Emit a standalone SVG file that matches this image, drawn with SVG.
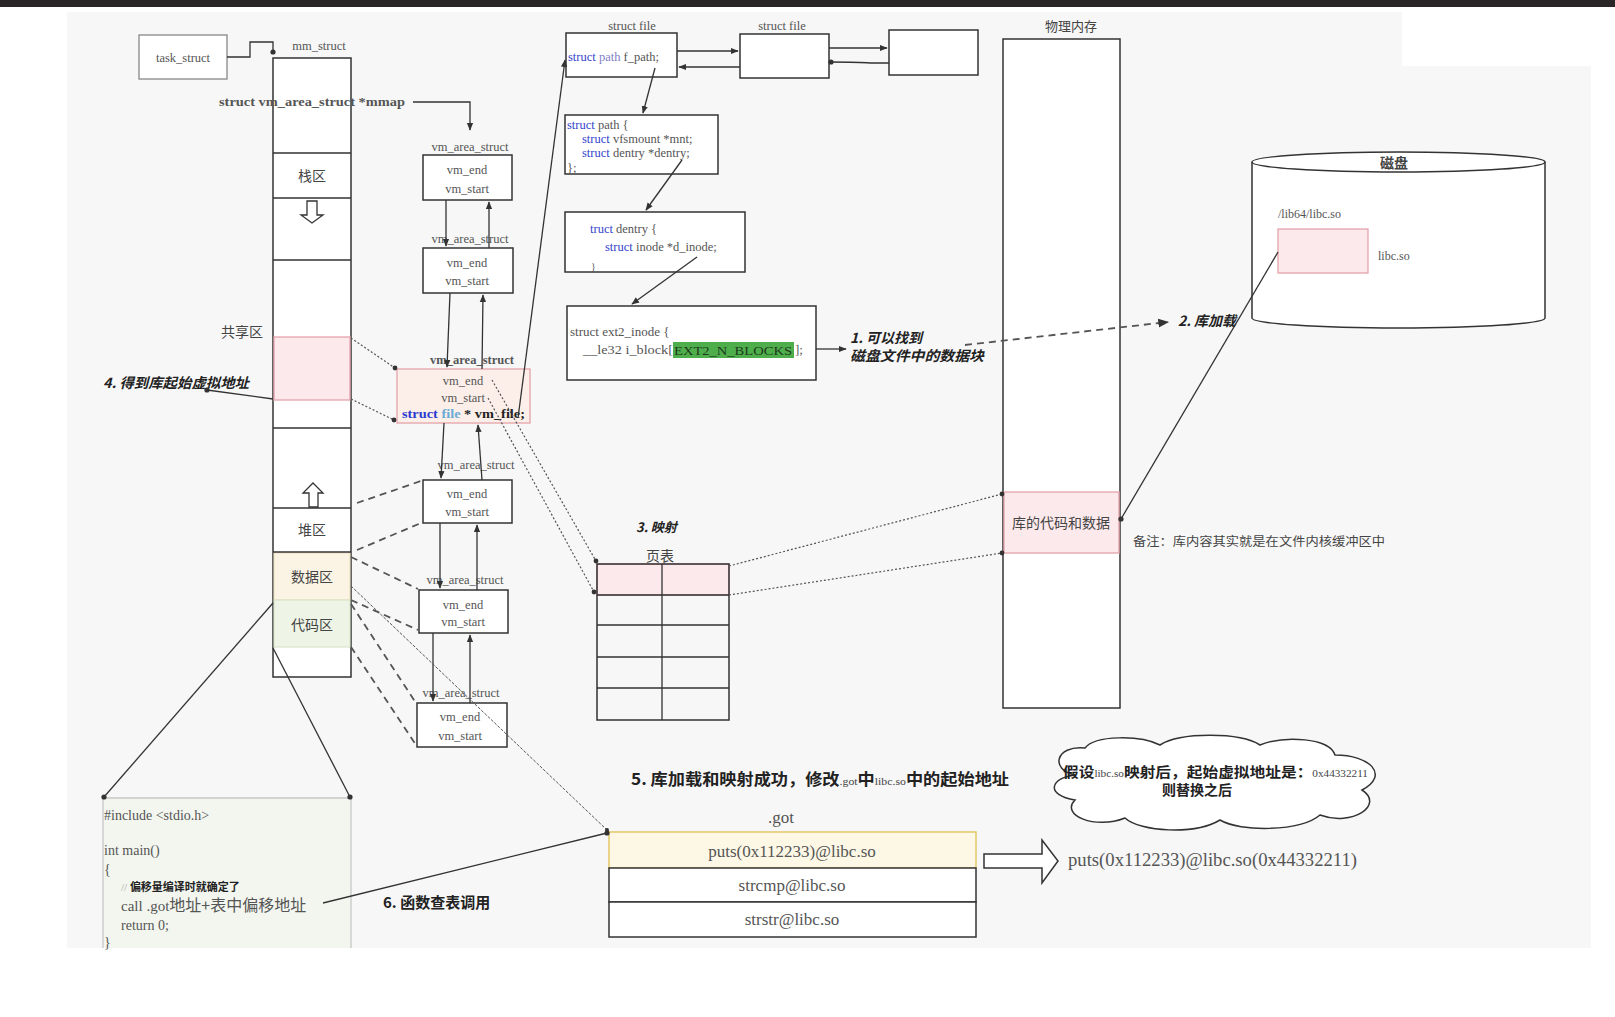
<svg xmlns="http://www.w3.org/2000/svg" width="1615" height="1017" viewBox="0 0 1615 1017">
<defs>
<style>
.bx{fill:#fff;stroke:#333;stroke-width:1.5}
.pk{fill:#fce9eb;stroke:#e4a3ab;stroke-width:1.3}
.ln{fill:none;stroke:#333;stroke-width:1.3}
.dt{fill:none;stroke:#555;stroke-width:1.2;stroke-dasharray:2 2}
.ds{fill:none;stroke:#555;stroke-width:1.8;stroke-dasharray:7 5}
.sf{font-family:"Liberation Serif",serif;fill:#555}
.s12{font-size:12.5px}
.cj{font-family:"Noto Sans CJK SC",sans-serif;fill:#444}
.bi{font-family:"Noto Sans CJK SC",sans-serif;font-weight:bold;font-style:italic;fill:#222}
.bd{font-family:"Noto Sans CJK SC",sans-serif;font-weight:bold;fill:#222}
.m{text-anchor:middle}
</style>
<marker id="arr" viewBox="0 0 10 10" refX="9" refY="5" markerWidth="6" markerHeight="6" orient="auto"><path d="M0,1 L10,5 L0,9 z" fill="#333"/></marker>
<marker id="dot" viewBox="0 0 10 10" refX="5" refY="5" markerWidth="5" markerHeight="5"><circle cx="5" cy="5" r="4" fill="#333"/></marker>
</defs>
<rect x="0" y="0" width="1615" height="1017" fill="#fff"/>
<rect x="0" y="0" width="1615" height="7" fill="#2a2627"/>
<rect x="67" y="12" width="1524" height="936" fill="#f7f7f7"/>
<rect x="1402" y="12" width="189" height="54" fill="#fff"/>

<g id="task_struct"><rect x="139" y="35" width="88" height="44" fill="#fff" stroke="#888" stroke-width="1.3"/><text class="sf s12 m" x="183" y="62" fill="#666">task_struct</text></g>

<g id="mm_struct">
<text class="sf s12 m" x="319" y="50">mm_struct</text>
<rect x="273" y="58" width="78" height="619" class="bx"/>
<rect x="274" y="337" width="76" height="63" class="pk"/>
<rect x="274" y="553" width="76" height="47" fill="#fbf4e4" stroke="#e8dcb8"/>
<rect x="274" y="600" width="76" height="47" fill="#eef4e6" stroke="#d6e2c2"/>
<path class="ln" d="M273,153 H351 M273,198 H351 M273,260 H351 M273,428 H351 M273,508 H351 M273,552 H351"/>
<path d="M307,201 H317 V215 H323 L312,223 L301,215 H307 Z" fill="#fff" stroke="#333" stroke-width="1.3"/>
<path d="M309,507 H318 V493 H323 L313,483 L303,493 H309 Z" fill="#fff" stroke="#333" stroke-width="1.3"/>
<text class="cj m" x="312" y="181" font-size="14">栈区</text>
<text class="cj m" x="312" y="535" font-size="14">堆区</text>
<text class="cj m" x="312" y="582" font-size="14">数据区</text>
<text class="cj m" x="312" y="630" font-size="14">代码区</text>
<text class="sf m" x="312" y="106" font-size="13.5" font-weight="bold" fill="#222" textLength="186" lengthAdjust="spacingAndGlyphs">struct vm_area_struct *mmap</text>
</g>
<text class="cj m" x="242" y="337" font-size="14">共享区</text>
<text class="bi" x="103" y="388" font-size="14" textLength="146" lengthAdjust="spacingAndGlyphs">4. 得到库起始虚拟地址</text>

<g id="vma1"><text class="sf s12 m" x="470" y="151">vm_area_struct</text><rect x="423" y="155" width="89" height="45" class="bx"/><text class="sf s12 m" x="467" y="174">vm_end</text><text class="sf s12 m" x="467" y="193">vm_start</text></g>
<g id="vma2"><text class="sf s12 m" x="470" y="243">vm_area_struct</text><rect x="423" y="248" width="90" height="45" class="bx"/><text class="sf s12 m" x="467" y="267">vm_end</text><text class="sf s12 m" x="467" y="285">vm_start</text></g>
<g id="vma3"><text class="sf s12 m" x="472" y="364" font-weight="bold" fill="#333">vm_area_struct</text><rect x="397" y="369" width="133" height="54" fill="#fcefe9" stroke="#e4a3ab" stroke-width="1.3"/><text class="sf s12 m" x="463" y="385">vm_end</text><text class="sf s12 m" x="463" y="402">vm_start</text><text x="402" y="418" font-family="Liberation Serif,serif" font-size="12.5" font-weight="bold" textLength="123" lengthAdjust="spacingAndGlyphs"><tspan fill="#2b3bd0">struct</tspan><tspan fill="#6aaad6"> file</tspan><tspan fill="#222"> * vm_file;</tspan></text></g>
<g id="vma4"><text class="sf s12 m" x="476" y="469">vm_area_struct</text><rect x="423" y="480" width="89" height="43" class="bx"/><text class="sf s12 m" x="467" y="498">vm_end</text><text class="sf s12 m" x="467" y="516">vm_start</text></g>
<g id="vma5"><text class="sf s12 m" x="465" y="584">vm_area_struct</text><rect x="419" y="590" width="89" height="43" class="bx"/><text class="sf s12 m" x="463" y="609">vm_end</text><text class="sf s12 m" x="463" y="626">vm_start</text></g>
<g id="vma6"><text class="sf s12 m" x="461" y="697">vm_area_struct</text><rect x="417" y="703" width="90" height="44" class="bx"/><text class="sf s12 m" x="460" y="721">vm_end</text><text class="sf s12 m" x="460" y="740">vm_start</text></g>

<g id="file1"><text class="sf s12 m" x="632" y="30">struct file</text><rect x="566" y="33" width="111" height="44" class="bx"/><text x="568" y="61" font-family="Liberation Serif,serif" font-size="12.5"><tspan fill="#3344cc">struct</tspan><tspan fill="#8080c8"> path</tspan><tspan fill="#555"> f_path;</tspan></text></g>
<g id="file2"><text class="sf s12 m" x="782" y="30">struct file</text><rect x="740" y="34" width="89" height="44" class="bx"/></g>
<g id="file3"><rect x="889" y="30" width="89" height="45" class="bx"/></g>
<g id="path"><rect x="565" y="115" width="153" height="59" class="bx"/><text x="567" y="129" font-family="Liberation Serif,serif" font-size="12.5"><tspan fill="#3344cc">struct</tspan><tspan fill="#555"> path {</tspan></text><text x="582" y="143" font-family="Liberation Serif,serif" font-size="12.5"><tspan fill="#3344cc">struct</tspan><tspan fill="#555"> vfsmount *mnt;</tspan></text><text x="582" y="157" font-family="Liberation Serif,serif" font-size="12.5"><tspan fill="#3344cc">struct</tspan><tspan fill="#555"> dentry *dentry;</tspan></text><text class="sf s12" x="567" y="172">};</text></g>
<g id="dentry"><rect x="565" y="212" width="180" height="60" class="bx"/><text x="590" y="233" font-family="Liberation Serif,serif" font-size="12.5"><tspan fill="#3344cc">truct</tspan><tspan fill="#555"> dentry {</tspan></text><text x="605" y="251" font-family="Liberation Serif,serif" font-size="12.5"><tspan fill="#3344cc">struct</tspan><tspan fill="#555"> inode *d_inode;</tspan></text><text class="sf" x="591" y="270" font-size="10">}</text></g>
<g id="ext2"><rect x="567" y="306" width="249" height="74" class="bx"/><text class="sf" x="570" y="336" font-size="13">struct ext2_inode {</text><text class="sf" x="583" y="354" font-size="13" textLength="90" lengthAdjust="spacingAndGlyphs">__le32  i_block[</text><rect x="673" y="342" width="121" height="16" fill="#4fae4c"/><text x="674" y="355" font-family="Liberation Serif,serif" font-size="13" fill="#1d3a1c" textLength="118" lengthAdjust="spacingAndGlyphs">EXT2_N_BLOCKS</text><text class="sf" x="795" y="354" font-size="13">];</text></g>
<text class="bi" x="850" y="343" font-size="14">1. 可以找到</text>
<text class="bi" x="850" y="361" font-size="14" textLength="134" lengthAdjust="spacingAndGlyphs">磁盘文件中的数据块</text>

<g id="phys"><text class="cj m" x="1071" y="31" font-size="13" fill="#555">物理内存</text><rect x="1003" y="39" width="117" height="669" class="bx"/><rect x="1004" y="492" width="115" height="61" class="pk"/><text class="cj m" x="1061" y="528" font-size="14" fill="#555">库的代码和数据</text></g>

<g id="pagetable"><text class="bi" x="636" y="532" font-size="13">3. 映射</text><text class="cj m" x="660" y="561" font-size="14" fill="#555">页表</text>
<rect x="597" y="564" width="132" height="31" class="pk"/>
<rect x="597" y="564" width="132" height="156" fill="none" stroke="#333" stroke-width="1.5"/>
<path class="ln" d="M662,564 V720 M597,595 H729 M597,625 H729 M597,657 H729 M597,688 H729"/></g>

<g id="disk"><path d="M1252,162 V318 A146.5,10 0 0 0 1545,318 V162" fill="#fff" stroke="#333" stroke-width="1.5"/><ellipse cx="1398.5" cy="162" rx="146.5" ry="10" fill="#fff" stroke="#333" stroke-width="1.5"/><text class="cj m" x="1394" y="168" font-size="14" font-weight="bold" fill="#555">磁盘</text><text class="sf" x="1278" y="218" font-size="12">/lib64/libc.so</text><rect x="1278" y="229" width="90" height="44" class="pk"/><text class="sf" x="1378" y="260" font-size="12">libc.so</text></g>
<text class="bi" x="1178" y="326" font-size="14">2. 库加载</text>
<text class="cj" x="1133" y="546" font-size="12" textLength="252" lengthAdjust="spacingAndGlyphs">备注：库内容其实就是在文件内核缓冲区中</text>

<g id="cloud"><path d="M1075,775 C1050,770 1055,745 1085,748 C1095,735 1140,735 1160,745 C1180,732 1240,732 1260,745 C1285,735 1330,738 1335,755 C1370,755 1390,775 1362,790 C1385,805 1352,827 1320,815 C1300,832 1240,832 1220,820 C1195,835 1140,832 1125,818 C1095,830 1060,815 1075,800 C1045,795 1050,778 1075,775 Z" fill="#fff" stroke="#333" stroke-width="1.5"/>
<text x="1063" y="777" font-size="14" textLength="305" lengthAdjust="spacingAndGlyphs" class="bd"><tspan>假设</tspan><tspan font-family="Liberation Serif,serif" font-weight="normal" font-size="10" fill="#444">libc.so</tspan><tspan>映射后，起始虚拟地址是：</tspan><tspan font-family="Liberation Serif,serif" font-weight="normal" font-size="10" fill="#444">0x44332211</tspan></text>
<text class="bd m" x="1197" y="795" font-size="14">则替换之后</text></g>

<text x="631" y="785" font-size="16" class="bd" textLength="378" lengthAdjust="spacingAndGlyphs"><tspan>5. 库加载和映射成功，修改</tspan><tspan font-family="Liberation Serif,serif" font-weight="normal" font-size="11" fill="#444">.got</tspan><tspan>中</tspan><tspan font-family="Liberation Serif,serif" font-weight="normal" font-size="11" fill="#444">libc.so</tspan><tspan>中的起始地址</tspan></text>

<g id="got"><text class="sf m" x="781" y="823" font-size="17">.got</text>
<rect x="609" y="832" width="367" height="36" fill="#fdf8e6" stroke="#e2c86a" stroke-width="1.5"/>
<rect x="609" y="868" width="367" height="34" class="bx"/>
<rect x="609" y="902" width="367" height="35" class="bx"/>
<text class="sf m" x="792" y="857" font-size="17">puts(0x112233)@libc.so</text>
<text class="sf m" x="792" y="891" font-size="17">strcmp@libc.so</text>
<text class="sf m" x="792" y="925" font-size="17">strstr@libc.so</text></g>
<path d="M984,854 H1042 V840 L1058,861 L1042,883 V868 H984 Z" fill="#fff" stroke="#333" stroke-width="1.5"/>
<text class="sf" x="1068" y="866" font-size="18" textLength="289" lengthAdjust="spacingAndGlyphs">puts(0x112233)@libc.so(0x44332211)</text>

<g id="code"><rect x="103" y="798" width="248" height="150" fill="#f3f6ef"/><path d="M103,948 V798 H351 V948" fill="none" stroke="#c8c8c8" stroke-width="1.3"/>
<text class="sf" x="104" y="820" font-size="14">#include &lt;stdio.h&gt;</text>
<text class="sf" x="104" y="855" font-size="14">int main()</text>
<text class="sf" x="104" y="874" font-size="14">{</text>
<text x="121" y="891" font-size="11"><tspan font-family="Liberation Serif,serif" fill="#aaa">// </tspan><tspan class="bd" fill="#333">偏移量编译时就确定了</tspan></text>
<text x="121" y="911" font-size="15"><tspan font-family="Liberation Serif,serif" fill="#555">call .got</tspan><tspan font-family="Noto Sans CJK SC,sans-serif" fill="#555" font-size="16">地址+表中偏移地址</tspan></text>
<text class="sf" x="121" y="930" font-size="14">return 0;</text>
<text class="sf" x="104" y="947" font-size="14">}</text></g>
<text class="bd" x="383" y="908" font-size="15">6. 函数查表调用</text>

<g id="connectors">
<path class="ln" d="M227,57 H250 V42 H273 V52" marker-end="url(#dot)"/>
<path class="ln" d="M413,102 H470 V130" marker-end="url(#arr)"/>
<path class="ln" d="M446,200 V246" marker-end="url(#arr)"/>
<path class="ln" d="M489,248 V202" marker-end="url(#arr)"/>
<path class="ln" d="M450,293 L447,367" marker-end="url(#arr)"/>
<path class="ln" d="M482,369 L483,295" marker-end="url(#arr)"/>
<path class="ln" d="M444,423 L441,478" marker-end="url(#arr)"/>
<path class="ln" d="M482,480 L478,425" marker-end="url(#arr)"/>
<path class="ln" d="M440,523 V588" marker-end="url(#arr)"/>
<path class="ln" d="M477,590 V525" marker-end="url(#arr)"/>
<path class="ln" d="M433,633 V701" marker-end="url(#arr)"/>
<path class="ln" d="M470,703 V635" marker-end="url(#arr)"/>
<path class="ln" d="M518,418 L565,60" marker-end="url(#arr)"/>
<path class="ln" d="M677,51 H738" marker-end="url(#arr)"/>
<path class="ln" d="M740,67 H679" marker-end="url(#arr)"/>
<path class="ln" d="M829,48 H887" marker-end="url(#arr)"/>
<path class="ln" d="M889,63 H870 Q860,62 831,62" marker-end="url(#dot)"/>
<path class="ln" d="M655,68 L643,113" marker-end="url(#arr)"/>
<path class="ln" d="M682,160 L646,210" marker-end="url(#arr)"/>
<path class="ln" d="M697,257 L632,304" marker-end="url(#arr)"/>
<path class="ln" d="M816,349 H846" marker-end="url(#arr)"/>
<path class="dt" d="M351,338 L395,368" marker-end="url(#dot)"/>
<path class="dt" d="M351,399 L394,420" marker-end="url(#dot)"/>
<path class="ln" d="M273,399 L207,390" marker-end="url(#dot)"/>
<path class="dt" d="M492,380 L596,561" marker-end="url(#dot)"/>
<path class="dt" d="M488,398 L594,592" marker-end="url(#dot)"/>
<path class="dt" d="M729,566 L1002,494" marker-end="url(#dot)"/>
<path class="dt" d="M729,595 L1002,553" marker-end="url(#dot)"/>
<path class="ds" d="M965,345 L1168,322" marker-end="url(#arr)" stroke-width="1.5" stroke-dasharray="6 4"/>
<path class="ln" d="M1278,252 L1121,519" marker-end="url(#dot)"/>
<path class="ds" d="M357,503 L421,481"/>
<path class="ds" d="M357,550 L421,523"/>
<path class="ds" d="M351,557 L418,589"/>
<path class="ds" d="M351,600 L418,630"/>
<path class="ds" d="M351,604 L416,703"/>
<path class="ds" d="M351,647 L416,745"/>
<path d="M351,586 L607,830" fill="none" stroke="#555" stroke-width="1" stroke-dasharray="3 1.5" marker-end="url(#dot)"/>
<path class="ln" d="M273,603 L104,797" marker-end="url(#dot)"/>
<path class="ln" d="M273,648 L350,797" marker-end="url(#dot)"/>
<path class="ln" d="M323,903 L607,833" marker-end="url(#dot)"/>
</g>
</svg>
